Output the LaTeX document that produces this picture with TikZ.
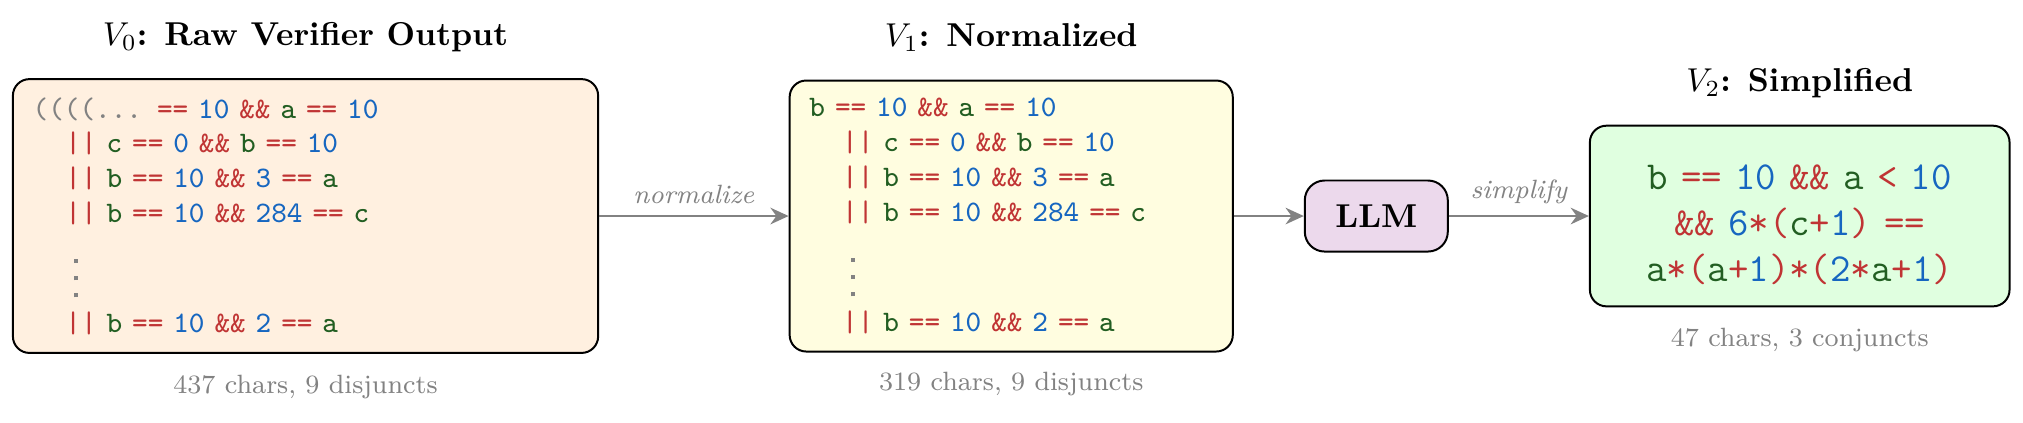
\documentclass[tikz,border=0pt]{standalone}
\usetikzlibrary{arrows.meta}

\definecolor{opred}{RGB}{192,52,52}
\definecolor{numblue}{RGB}{22,102,192}
\definecolor{vargreen}{RGB}{34,94,34}
\definecolor{capgray}{RGB}{130,130,130}

\newcommand{\cop}[1]{\textcolor{opred}{#1}}
\newcommand{\cnum}[1]{\textcolor{numblue}{#1}}
\newcommand{\cvar}[1]{\textcolor{vargreen}{#1}}
\newcommand{\disj}{\hspace*{1.1em}\cop{||}\ }
\newcommand{\dotrule}{\hbox{\rule{1.2pt}{1.2pt}}}
\newcommand{\cvdots}{\hspace*{1.1em}\hspace*{2.7pt}\textcolor{capgray}{\vbox{\baselineskip5.2pt\lineskiplimit0pt\dotrule\dotrule\dotrule}}}
\newcommand{\codefont}{\ttfamily\fontsize{9}{10.5}\selectfont}
\newcommand{\bigcodefont}{\ttfamily\fontsize{12}{13.8}\selectfont}

\begin{document}
\begin{tikzpicture}[node distance=1.5cm]
    \tikzstyle{codebox} = [rectangle, rounded corners=5pt, draw=black, semithick, inner xsep=6pt, align=left, font=\codefont]
    \tikzstyle{vtitle} = [font=\bfseries]
    \tikzstyle{vnote} = [font=\footnotesize, text=capgray]
    \tikzstyle{flow} = [-{Stealth[length=5.5pt, width=5pt]}, thick, capgray]
    \tikzstyle{flowlabel} = [midway, above, font=\footnotesize\itshape, text=capgray]

    \useasboundingbox (0,0) rectangle (21.5,-4.4956);

    % Versions of the formula
    \node [codebox, fill=orange!12, text width=5.798cm, minimum height=2.91cm] (v0) at (3.247,-2.296) {%
        \textcolor{capgray}{((((...} \cop{==} \cnum{10} \cop{\&\&} \cvar{a} \cop{==} \cnum{10}\\
        \disj \cvar{c} \cop{==} \cnum{0} \cop{\&\&} \cvar{b} \cop{==} \cnum{10}\\
        \disj \cvar{b} \cop{==} \cnum{10} \cop{\&\&} \cnum{3} \cop{==} \cvar{a}\\
        \disj \cvar{b} \cop{==} \cnum{10} \cop{\&\&} \cnum{284} \cop{==} \cvar{c}\\[9.4pt]
        \cvdots\\
        \disj \cvar{b} \cop{==} \cnum{10} \cop{\&\&} \cnum{2} \cop{==} \cvar{a}};
    \node [codebox, fill=yellow!12, text width=4.288cm, minimum height=2.88cm, right of=v0, xshift=6cm] (v1) {%
        \cvar{b} \cop{==} \cnum{10} \cop{\&\&} \cvar{a} \cop{==} \cnum{10}\\
        \disj \cvar{c} \cop{==} \cnum{0} \cop{\&\&} \cvar{b} \cop{==} \cnum{10}\\
        \disj \cvar{b} \cop{==} \cnum{10} \cop{\&\&} \cnum{3} \cop{==} \cvar{a}\\
        \disj \cvar{b} \cop{==} \cnum{10} \cop{\&\&} \cnum{284} \cop{==} \cvar{c}\\[9.4pt]
        \cvdots\\
        \disj \cvar{b} \cop{==} \cnum{10} \cop{\&\&} \cnum{2} \cop{==} \cvar{a}};
    \node [rectangle, rounded corners=6pt, draw=black, semithick, fill=violet!15, minimum width=1.52cm, minimum height=0.755cm, font=\bfseries, right of=v1, xshift=2.38cm] (llm) {LLM};
    \node [codebox, fill=green!12, text width=4.038cm, minimum height=1.92cm, align=center, font=\bigcodefont, right of=llm, xshift=3cm] (v2) {%
        \rule{0pt}{12.8pt}\cvar{b} \cop{==} \cnum{10} \cop{\&\&} \cvar{a} \cop{<} \cnum{10}\\
        \cop{\&\&} \cnum{6}\cop{*}\cop{(}\cvar{c}\cop{+}\cnum{1}\cop{)} \cop{==}\\
        \cvar{a}\cop{*}\cop{(}\cvar{a}\cop{+}\cnum{1}\cop{)}\cop{*}\cop{(}\cnum{2}\cop{*}\cvar{a}\cop{+}\cnum{1}\cop{)}};

    % Titles
    \node [vtitle, above of=v0, yshift=0.4cm] (t0) {$V_0$: Raw Verifier Output};
    \node [vtitle, above of=v1, yshift=0.4cm] (t1) {$V_1$: Normalized};
    \node [vtitle, above of=v2, yshift=-0.09cm] (t2) {$V_2$: Simplified};

    % Sizes
    \node [vnote, below of=v0, yshift=-0.32cm] (n0) {437 chars, 9 disjuncts};
    \node [vnote, below of=v1, yshift=-0.29cm] (n1) {319 chars, 9 disjuncts};
    \node [vnote, below of=v2, yshift=0.18cm] (n2) {47 chars, 3 conjuncts};

    % Pipeline
    \draw [flow] (v0.east) -- node [flowlabel] {normalize} (v1.west);
    \draw [flow] (v1.east) -- (llm.west);
    \draw [flow] (llm.east) -- node [flowlabel] {simplify} (v2.west);
\end{tikzpicture}
\end{document}
